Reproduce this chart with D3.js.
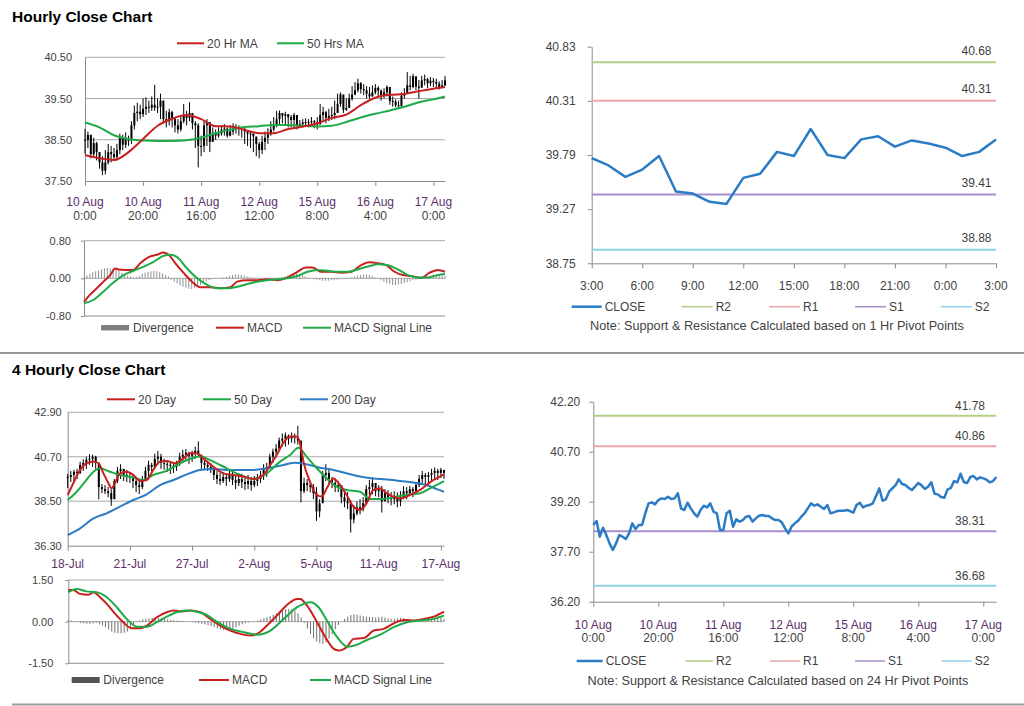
<!DOCTYPE html>
<html><head><meta charset="utf-8">
<script src="https://cdn.jsdelivr.net/npm/d3@7"></script>
<style>
body{margin:0;background:#fff;}
svg{display:block;}
</style></head><body>
<svg id="c" width="1024" height="706"></svg>
<script>
// ---------------- DATA ----------------
// Hourly bars (10 Aug 0:00 .. 17 Aug 4:00)
const hourClose = [38.50,38.62,38.15,38.42,38.20,37.95,37.75,37.95,38.20,38.15,
 38.08,38.25,38.55,38.38,38.50,38.50,38.85,39.15,39.18,39.12,
 39.25,39.30,39.28,39.35,39.28,39.30,39.45,39.00,38.95,39.17,
 39.00,38.85,38.75,38.95,39.08,39.03,39.15,38.90,38.85,38.35,
 38.35,38.85,38.93,38.45,38.67,38.60,38.65,38.75,38.77,38.60,
 38.70,38.78,38.80,38.77,38.77,38.70,38.65,38.65,38.58,38.40,
 38.25,38.45,38.55,38.63,38.75,38.85,39.00,39.15,39.08,39.12,
 39.05,38.98,39.10,38.85,38.88,38.92,38.93,38.93,38.95,38.92,
 38.87,39.10,39.17,39.03,39.08,39.10,39.15,39.37,39.60,39.23,
 39.27,39.50,39.60,39.70,39.87,39.73,39.70,39.62,39.55,39.65,
 39.76,39.69,39.58,39.65,39.78,39.44,39.42,39.34,39.32,39.57,
 39.61,39.82,39.78,40.04,39.79,39.76,39.94,39.97,39.87,39.93,
 39.90,39.86,39.78,39.82,39.94];
const hourHigh = [38.76,38.70,38.62,38.55,38.45,38.20,38.10,38.25,38.40,38.35,
 38.30,38.40,38.65,38.62,38.68,38.60,38.95,39.33,39.40,39.35,
 39.50,39.53,39.45,39.55,39.83,39.50,39.62,39.45,39.20,39.25,
 39.20,39.05,39.00,39.10,39.37,39.20,39.41,39.10,38.95,38.90,
 38.60,38.95,39.00,38.85,38.80,38.75,38.80,38.85,38.88,38.80,
 38.85,38.90,38.88,38.85,38.80,38.78,38.72,38.70,38.65,38.55,
 38.45,38.60,38.70,38.78,38.95,39.05,39.20,39.21,39.15,39.18,
 39.12,39.10,39.15,39.00,38.98,39.00,39.02,39.00,39.05,38.98,
 39.05,39.37,39.30,39.20,39.25,39.30,39.45,39.62,39.65,39.45,
 39.50,39.62,39.80,39.90,39.98,39.90,39.85,39.80,39.78,39.82,
 39.85,39.80,39.72,39.75,39.82,39.62,39.55,39.48,39.45,39.65,
 39.75,40.14,40.05,40.10,40.00,39.95,40.05,40.08,40.00,40.02,
 40.00,39.98,39.92,39.95,40.05];
const hourLow = [38.16,38.30,38.05,38.10,38.00,37.80,37.64,37.66,37.90,37.95,
 37.98,38.00,38.15,38.25,38.30,38.35,38.40,38.75,38.95,39.00,
 39.05,39.10,39.15,39.20,39.20,39.15,39.00,38.90,38.80,38.85,
 38.80,38.68,38.65,38.70,38.90,38.85,38.95,38.75,38.30,37.83,
 38.10,38.20,38.35,38.20,38.45,38.50,38.55,38.60,38.60,38.55,
 38.58,38.62,38.65,38.60,38.55,38.40,38.35,38.30,38.20,38.10,
 38.05,38.15,38.25,38.40,38.60,38.70,38.80,38.85,38.90,38.85,
 38.80,38.80,38.78,38.75,38.78,38.80,38.82,38.80,38.85,38.78,
 38.75,38.90,38.95,38.90,38.95,38.98,39.00,39.17,39.30,39.15,
 39.20,39.30,39.45,39.58,39.65,39.62,39.58,39.50,39.50,39.55,
 39.60,39.55,39.45,39.50,39.55,39.35,39.30,39.29,39.25,39.30,
 39.50,39.66,39.70,39.75,39.70,39.50,39.80,39.82,39.75,39.80,
 39.78,39.76,39.72,39.75,39.80];
// moving averages read at [bar, value]
const ma20Hour = [[0,38.13],[5,38.05],[10,38.01],[15,38.20],[20,38.52],[25,38.84],[30,39.01],[35,39.10],[40,39.00],[45,38.83],[50,38.82],[55,38.74],[60,38.66],[65,38.66],[70,38.76],[75,38.82],[80,38.90],[85,39.03],[90,39.11],[95,39.34],[100,39.52],[105,39.59],[110,39.61],[115,39.68],[120,39.74],[124,39.78]];
const ma50Hour = [[0,38.92],[5,38.80],[10,38.61],[15,38.52],[20,38.48],[25,38.47],[30,38.47],[35,38.49],[40,38.55],[45,38.66],[50,38.74],[55,38.81],[60,38.83],[65,38.86],[70,38.86],[75,38.84],[80,38.82],[85,38.84],[90,38.93],[95,39.04],[100,39.13],[105,39.21],[110,39.30],[115,39.41],[120,39.48],[124,39.55]];
const macdHour = [[0,-0.50],[2,-0.35],[4.4,-0.21],[6.7,-0.07],[9,0.07],[10.7,0.21],[11.8,0.19],[14.1,0.18],[17,0.18],[19.3,0.32],[22.2,0.45],[25,0.50],[27.4,0.55],[29.1,0.50],[31.4,0.32],[34.3,0.11],[37.1,-0.07],[40,-0.19],[43.4,-0.19],[46.9,-0.21],[50.3,-0.19],[52.6,-0.07],[56.1,-0.04],[59.5,-0.04],[63,-0.02],[66.4,-0.04],[69.9,0.02],[73.3,0.14],[76.2,0.23],[78.5,0.23],[81.4,0.14],[84.8,0.14],[88.3,0.12],[91.7,0.14],[95.2,0.28],[98,0.34],[100.9,0.32],[103.8,0.28],[106.7,0.14],[109.5,0.07],[112.4,0.05],[115.9,0.01],[118.7,0.12],[121.6,0.18],[124,0.14]];
const signalHour = [[0,-0.53],[3.2,-0.46],[6.7,-0.28],[10.1,-0.09],[13.6,0.07],[17,0.16],[20.5,0.25],[23.9,0.35],[27.4,0.48],[29.7,0.50],[32,0.45],[35.4,0.21],[38.9,0.00],[42.3,-0.14],[45.7,-0.21],[49.2,-0.21],[52.6,-0.18],[56.1,-0.12],[59.5,-0.07],[63,-0.04],[66.4,-0.02],[69.9,0.00],[73.3,0.05],[76.8,0.14],[80.2,0.18],[83.7,0.16],[87.1,0.14],[90.6,0.14],[94,0.19],[97.5,0.25],[100.9,0.30],[104.4,0.28],[107.8,0.19],[111.3,0.07],[114.7,0.02],[118.2,0.02],[121.6,0.07],[124,0.09]];
const divHour = [0.03,0.06,0.10,0.13,0.15,0.17,0.19,0.21,0.22,0.21,
 0.20,0.19,0.16,0.12,0.09,0.06,0.04,0.02,0.03,0.05,
 0.10,0.12,0.14,0.15,0.16,0.15,0.13,0.10,0.07,0.04,
 -0.03,-0.07,-0.11,-0.15,-0.18,-0.20,-0.22,-0.23,-0.21,-0.18,
 -0.14,-0.10,-0.07,-0.04,-0.02,-0.01,0.00,0.01,0.02,0.03,
 0.05,0.07,0.08,0.08,0.07,0.06,0.04,0.03,0.02,0.01,
 0.00,-0.01,-0.01,0.00,0.00,0.01,0.01,0.02,0.03,0.04,
 0.06,0.08,0.09,0.10,0.09,0.07,0.04,0.02,0.00,-0.02,
 -0.03,-0.04,-0.05,-0.05,-0.05,-0.04,-0.04,-0.03,-0.02,-0.02,
 -0.01,0.00,0.02,0.04,0.06,0.07,0.08,0.08,0.07,0.05,
 0.02,-0.01,-0.04,-0.07,-0.10,-0.12,-0.14,-0.14,-0.13,-0.12,
 -0.10,-0.08,-0.06,-0.04,-0.03,-0.02,0.00,0.02,0.04,0.06,
 0.08,0.08,0.07,0.06,0.05];
const hourTickBars = [0,20,40,60,80,100,120];
const hourTickDates = ['10 Aug','10 Aug','11 Aug','12 Aug','15 Aug','16 Aug','17 Aug'];
const hourTickTimes = ['0:00','20:00','16:00','12:00','8:00','4:00','0:00'];
const hourYTicks = [37.5,38.5,39.5,40.5];
const hourMacdTicks = [-0.8,0,0.8];

// 4-hourly bars (18 Jul .. 17 Aug)
const fourClose = [39.70,39.80,39.95,39.90,40.30,40.40,40.55,40.60,40.70,40.40,
 39.20,39.10,39.00,38.90,38.60,39.50,40.00,40.10,39.80,39.75,
 39.70,39.50,39.30,39.20,39.55,40.00,40.30,40.20,40.60,40.70,
 40.40,40.35,40.30,40.25,40.20,40.40,40.70,40.80,40.90,40.75,
 40.85,41.00,40.80,40.40,40.30,40.20,40.10,39.80,39.60,39.50,
 39.70,39.60,39.80,39.55,39.40,39.60,39.45,39.35,39.50,39.30,
 39.50,39.60,39.80,40.10,40.20,40.70,40.95,41.10,41.50,41.60,
 41.75,41.60,41.70,41.65,41.50,39.00,39.40,39.30,39.20,38.90,
 38.00,38.40,39.80,39.90,39.60,39.40,39.20,39.30,38.70,38.50,
 38.40,37.60,37.90,38.20,38.10,38.40,39.10,39.20,39.40,39.00,
 39.10,38.50,38.90,38.70,38.60,38.70,38.50,38.70,39.00,38.90,
 39.10,39.00,39.30,39.60,39.80,39.70,39.80,39.90,40.00,39.90,
 40.05,39.90];
const fourHigh = [39.85,40.00,40.05,40.10,40.45,40.58,40.70,40.83,40.80,40.75,
 40.40,39.35,39.30,39.20,39.10,39.60,40.20,40.33,40.09,40.05,
 39.95,39.85,39.70,39.60,39.75,40.20,40.50,40.40,40.85,40.99,
 40.85,40.60,40.50,40.45,40.40,40.50,40.90,41.05,41.08,40.95,
 41.00,41.20,41.46,40.70,40.60,40.50,40.40,40.17,40.00,39.90,
 39.95,39.85,40.05,39.95,39.80,39.90,39.85,39.75,39.80,39.70,
 39.75,39.85,40.00,40.33,40.40,40.85,41.10,41.33,41.65,41.85,
 41.90,41.80,41.90,41.85,42.23,41.20,39.67,39.60,39.50,39.35,
 39.20,38.60,40.00,40.33,40.10,39.70,39.55,39.50,39.20,39.05,
 38.95,38.55,38.30,38.50,38.60,38.70,39.30,39.55,39.67,39.40,
 39.30,39.26,39.10,39.05,38.95,39.00,38.93,39.00,39.25,39.20,
 39.25,39.20,39.40,39.80,40.00,39.90,39.95,40.10,40.17,40.10,
 40.15,40.05];
const fourLow = [39.15,39.45,39.50,39.60,39.85,40.00,40.10,40.30,40.20,40.10,
 38.60,38.90,38.85,38.70,38.27,38.60,39.40,39.60,39.50,39.45,
 39.40,39.15,38.95,38.85,39.10,39.50,39.70,39.85,40.10,40.30,
 40.10,40.05,39.95,39.85,39.90,40.00,40.25,40.40,40.50,40.35,
 40.45,40.60,40.70,40.10,40.05,40.00,39.90,39.55,39.35,39.30,
 39.40,39.26,39.45,39.30,39.10,39.25,39.15,39.05,39.10,39.02,
 39.20,39.25,39.40,39.55,39.70,40.17,40.40,40.65,41.00,41.20,
 41.20,41.30,41.40,41.35,41.30,38.44,38.90,39.00,38.93,38.60,
 37.53,37.70,38.90,39.50,39.40,39.15,38.95,38.95,38.40,38.20,
 38.11,36.95,37.40,37.80,37.85,38.00,38.50,38.80,38.85,38.75,
 38.70,37.94,38.50,38.40,38.30,38.35,38.20,38.25,38.60,38.60,
 38.75,38.70,38.90,39.20,39.40,39.30,39.35,39.50,39.60,39.55,
 39.65,39.60];
const ma20Four = [[0,38.81],[1.8,39.39],[4,40.05],[6.1,40.38],[8.3,40.46],[9.9,40.38],[11.5,39.88],[13.1,39.39],[14.1,39.14],[15.2,39.39],[16.8,39.88],[19,39.96],[21.1,39.80],[23.3,39.50],[25.4,39.55],[27.5,40.05],[29.7,40.46],[31.8,40.49],[34.5,40.38],[37.2,40.62],[39.3,40.87],[41.5,40.87],[43.6,40.62],[46.8,40.21],[50.1,39.88],[53.3,39.80],[56.5,39.72],[59.7,39.60],[62.9,39.80],[65.1,40.29],[67.2,40.79],[69.3,41.37],[71.5,41.70],[73.6,41.70],[74.7,41.37],[75.8,40.46],[77.9,39.47],[80.1,38.81],[81.7,38.73],[83.3,39.14],[85.4,39.63],[87.6,39.30],[89.7,38.81],[91.9,38.23],[94,38.07],[96.1,38.40],[98.3,39.06],[100.4,39.14],[102.6,38.89],[104.7,38.73],[106.9,38.64],[109,38.73],[111.1,38.89],[113.3,39.06],[115.4,39.30],[117.6,39.55],[119.7,39.72],[121,39.83]];
const ma50Four = [[0,38.56],[2.9,38.97],[5.6,39.47],[8.3,39.96],[10.4,40.13],[13.6,39.96],[16.8,39.80],[21.1,39.67],[24.3,39.55],[27.5,39.80],[31.8,40.00],[36.1,40.38],[39.3,40.59],[42.6,40.71],[46.8,40.46],[51.1,40.13],[55.4,39.80],[59.7,39.60],[64,39.88],[68.3,40.46],[71.5,40.79],[74.2,41.15],[76.8,40.71],[80.1,40.13],[83.3,39.63],[86.5,39.22],[89.7,39.06],[94,38.97],[97.2,38.61],[101.5,38.61],[105.8,38.73],[110.1,38.84],[113.3,38.89],[116.5,39.14],[121,39.50]];
const ma200Four = [[0,36.83],[4,37.16],[8.3,37.65],[12.5,37.90],[16.8,38.23],[21.1,38.56],[25.4,38.84],[29.7,39.30],[34,39.55],[38.3,39.83],[42.6,40.05],[46.8,40.09],[51.1,40.05],[55.4,40.05],[59.7,40.05],[64,40.13],[69.3,40.29],[73.1,40.41],[76.8,40.33],[81.1,40.16],[85.4,40.05],[89.7,39.88],[94,39.72],[98.3,39.63],[102.6,39.58],[106.9,39.50],[111.1,39.43],[115.4,39.30],[118.7,39.10],[121,38.97]];
const macdFour = [[0,1.14],[1.6,1.14],[3.8,1.00],[6.5,0.97],[8.1,1.06],[10.2,0.88],[12.4,0.64],[15.1,0.28],[17.7,-0.02],[20.4,-0.24],[23.1,-0.24],[25.3,-0.14],[28.5,0.16],[31.7,0.34],[33.9,0.40],[36.6,0.37],[39.2,0.40],[42.5,0.34],[45.7,0.10],[48.9,-0.14],[52.2,-0.32],[55.4,-0.44],[58.6,-0.50],[60.8,-0.44],[64,-0.14],[67.2,0.22],[70.4,0.60],[73.7,0.82],[74.7,0.82],[76.9,0.58],[80.1,-0.02],[82.8,-0.56],[85.5,-0.98],[87.1,-1.04],[89.8,-0.90],[91.9,-0.62],[95.2,-0.59],[98.4,-0.32],[101.6,-0.26],[104.8,-0.06],[108.1,0.06],[111.3,0.04],[114.5,0.10],[117.7,0.18],[121,0.36]];
const signalFour = [[0,1.06],[2.7,1.18],[5.9,1.09],[9.1,1.06],[12.4,0.88],[15.6,0.52],[18.8,0.10],[22,-0.18],[25.3,-0.18],[28.5,-0.02],[31.7,0.18],[34.9,0.34],[38.2,0.40],[41.4,0.36],[44.6,0.24],[47.8,0.00],[52.2,-0.26],[56.5,-0.38],[60.8,-0.47],[65.1,-0.32],[69.4,0.10],[73.7,0.52],[78,0.70],[80.6,0.52],[83.3,0.04],[86.6,-0.56],[89.8,-0.90],[93,-0.83],[96.2,-0.66],[100.5,-0.47],[104.8,-0.20],[109.1,-0.02],[113.4,0.04],[117.7,0.10],[121,0.22]];
const divFour = [0.06,0.04,0.02,-0.02,-0.05,-0.06,-0.07,-0.08,-0.06,-0.05,
 -0.10,-0.14,-0.20,-0.28,-0.35,-0.40,-0.42,-0.42,-0.40,-0.36,
 -0.25,-0.12,-0.02,0.04,0.08,0.10,0.12,0.14,0.15,0.14,
 0.12,0.10,0.08,0.06,0.05,0.04,0.03,0.02,0.00,-0.01,
 -0.02,-0.04,-0.06,-0.08,-0.10,-0.13,-0.16,-0.20,-0.24,-0.27,
 -0.29,-0.30,-0.28,-0.25,-0.20,-0.15,-0.10,-0.06,-0.03,-0.01,
 0.00,0.04,0.08,0.12,0.16,0.20,0.25,0.30,0.35,0.40,
 0.44,0.46,0.45,0.40,0.30,0.15,-0.05,-0.25,-0.45,-0.60,
 -0.72,-0.78,-0.80,-0.75,-0.62,-0.45,-0.28,-0.12,0.00,0.10,
 0.18,0.24,0.26,0.25,0.22,0.20,0.18,0.17,0.16,0.15,
 0.16,0.18,0.15,0.12,0.10,0.10,0.12,0.14,0.12,0.10,
 0.08,0.06,0.06,0.08,0.10,0.12,0.12,0.10,0.10,0.12,
 0.14,0.10];
const fourTickBars = [0,20,40,60,80,100,120];
const fourTickLabels = ['18-Jul','21-Jul','27-Jul','2-Aug','5-Aug','11-Aug','17-Aug'];
const fourYTicks = [36.3,38.5,40.7,42.9];
const fourMacdTicks = [-1.5,0,1.5];

// Pivot charts
const levelNames = ['R2','R1','S1','S2'];
const pivot1Levels = [40.68,40.31,39.41,38.88];
const pivot2Levels = [41.78,40.86,38.31,36.68];
const pivot1Ticks = ['3:00','6:00','9:00','12:00','15:00','18:00','21:00','0:00','3:00'];
const pivot1YTicks = [38.75,39.27,39.79,40.31,40.83];
const pivot2YTicks = [36.2,37.7,39.2,40.7,42.2];

// ---------------- DRAWING ----------------
const FONT = '"Liberation Sans", Arial, sans-serif';
const GRID = '#a8a8a8', AXIS = '#8c8c8c', TXT = '#3f3f3f', DATE = '#5a2f6a';
const RED = '#c8201e', GREEN = '#1faa48', BLUE = '#2b7cc4';
const LEVEL_COLORS = {R2:'#b2cf88', R1:'#eaa6a8', S1:'#a88fcc', S2:'#90d0e8'};
const fmt2 = d => d.toFixed(2);
const svg = d3.select('#c');

function txt(g, x, y, s, size, color, anchor, weight) {
  return g.append('text').attr('x', x).attr('y', y).text(s)
    .attr('font-family', FONT).attr('font-size', size).attr('fill', color || TXT)
    .attr('text-anchor', anchor || 'start').attr('font-weight', weight || 'normal');
}
function styleAxis(g) {
  g.select('.domain').attr('stroke', AXIS).attr('stroke-width', 1);
  g.selectAll('.tick line').attr('stroke', AXIS);
  g.selectAll('.tick text').attr('fill', TXT).attr('font-family', FONT);
}
function yAxisLeft(x0, y, ticks, pad, size, fs) {
  const g = svg.append('g').attr('transform', `translate(${x0},0)`)
    .call(d3.axisLeft(y).tickValues(ticks).tickFormat(fmt2).tickSizeInner(size).tickSizeOuter(0).tickPadding(pad));
  styleAxis(g);
  g.selectAll('.tick text').attr('font-size', fs);
  return g;
}
function xAxisBottom(y1, x, bars, size) {
  const g = svg.append('g').attr('transform', `translate(0,${y1})`)
    .call(d3.axisBottom(x).tickValues(bars).tickFormat('').tickSizeInner(size).tickSizeOuter(0));
  styleAxis(g);
  return g;
}
function grid(x0, x1, y, vals) {
  svg.append('g').selectAll('line').data(vals).join('line')
    .attr('x1', x0).attr('x2', x1).attr('y1', d => y(d)).attr('y2', d => y(d))
    .attr('stroke', GRID).attr('stroke-width', 1);
}
function lineLegend(g, x, y, w, color, label, sw) {
  g.append('line').attr('x1', x).attr('x2', x + w).attr('y1', y).attr('y2', y)
    .attr('stroke', color).attr('stroke-width', sw || 2);
  txt(g, x + w + 3, y + 4.3, label, 12, TXT);
}
function maLine(x, y, pts, color, w) {
  svg.append('path').datum(pts)
    .attr('d', d3.line().x(d => x(d[0])).y(d => y(d[1])).curve(d3.curveMonotoneX))
    .attr('fill', 'none').attr('stroke', color).attr('stroke-width', w || 2).attr('stroke-linejoin', 'round');
}

function candlePanel(o) {
  const n = o.close.length;
  const x = d3.scaleLinear().domain([0, n - 1]).range([o.x0, o.x1]);
  const y = d3.scaleLinear().domain(o.yDomain).range([o.y1, o.y0]);
  grid(o.x0, o.x1, y, o.yTicks.slice(1));
  yAxisLeft(o.x0, y, o.yTicks, o.ypad, 0, 11);
  xAxisBottom(o.y1, x, o.xTickBars, 5);
  const g = svg.append('g');
  g.selectAll('line').data(o.close).join('line')
    .attr('x1', (d, i) => x(i)).attr('x2', (d, i) => x(i))
    .attr('y1', (d, i) => y(o.high[i])).attr('y2', (d, i) => y(o.low[i]))
    .attr('stroke', '#000').attr('stroke-width', 1);
  g.selectAll('rect').data(o.close).join('rect')
    .attr('x', (d, i) => x(i) - 1).attr('width', 2)
    .attr('y', (d, i) => y(Math.max(d, i ? o.close[i - 1] : d)))
    .attr('height', (d, i) => Math.max(1, Math.abs(y(d) - y(i ? o.close[i - 1] : d))))
    .attr('fill', '#000');
  o.mas.forEach(m => maLine(x, y, m.pts, m.color, 2));
  return x;
}
function macdPanel(o) {
  const n = o.div.length;
  const x = d3.scaleLinear().domain([0, n - 1]).range([o.x0, o.x1]);
  const y = d3.scaleLinear().domain([o.ticks[0], o.ticks[o.ticks.length - 1]]).range([o.y1, o.y0]);
  grid(o.x0, o.x1, y, o.ticks.slice(1));
  yAxisLeft(o.x0, y, o.ticks, o.ypad, 3, 11);
  svg.append('line').attr('x1', o.x0).attr('x2', o.x1).attr('y1', o.y1).attr('y2', o.y1).attr('stroke', AXIS);
  svg.append('g').selectAll('line').data(o.div).join('line')
    .attr('x1', (d, i) => x(i)).attr('x2', (d, i) => x(i))
    .attr('y1', y(0)).attr('y2', d => y(d))
    .attr('stroke', o.divColor).attr('stroke-width', 1);
  maLine(x, y, o.macd, RED, 2);
  maLine(x, y, o.signal, GREEN, 2);
}
function pivotPanel(o) {
  const n = o.close.length;
  const x = d3.scaleLinear().domain([0, n - 1]).range([o.x0, o.x1]);
  const y = d3.scaleLinear().domain([o.yTicks[0], o.yTicks[o.yTicks.length - 1]]).range([o.y1, o.y0]);
  yAxisLeft(o.x0, y, o.yTicks, o.ypad, 4, 12);
  xAxisBottom(o.y1, x, o.xTickBars, 5);
  const g = svg.append('g');
  o.levels.forEach((v, i) => {
    g.append('line').attr('x1', o.x0).attr('x2', o.x1).attr('y1', y(v)).attr('y2', y(v))
      .attr('stroke', LEVEL_COLORS[levelNames[i]]).attr('stroke-width', 2);
    txt(g, o.labelX, y(v) - o.labelDy, fmt2(v), 12, TXT, 'end');
  });
  g.append('path').datum(o.close)
    .attr('d', d3.line().x((d, i) => x(i)).y(d => y(d)))
    .attr('fill', 'none').attr('stroke', BLUE).attr('stroke-width', 2.5).attr('stroke-linejoin', 'round');
  return x;
}

// ---- Titles and separators
txt(svg, 12, 21.5, 'Hourly Close Chart', 15.5, '#000', 'start', 'bold');
txt(svg, 12, 375, '4 Hourly Close Chart', 15.5, '#000', 'start', 'bold');
svg.append('line').attr('x1', 0).attr('x2', 1024).attr('y1', 353).attr('y2', 353).attr('stroke', '#9a9a9a').attr('stroke-width', 2);
svg.append('line').attr('x1', 12).attr('x2', 1024).attr('y1', 704.5).attr('y2', 704.5).attr('stroke', '#9a9a9a').attr('stroke-width', 2);

// ---- Hourly candle chart
const lg1 = svg.append('g');
lineLegend(lg1, 177, 43.3, 27, RED, '20 Hr MA');
lineLegend(lg1, 277, 43.3, 27, GREEN, '50 Hrs MA');
const xh = candlePanel({x0: 85, x1: 445, y0: 57.3, y1: 181, yDomain: [37.5, 40.5], yTicks: hourYTicks, ypad: 13,
  close: hourClose, high: hourHigh, low: hourLow, xTickBars: hourTickBars,
  mas: [{pts: ma50Hour, color: GREEN}, {pts: ma20Hour, color: RED}]});
hourTickBars.forEach((b, i) => {
  txt(svg, xh(b), 205.5, hourTickDates[i], 12, DATE, 'middle');
  txt(svg, xh(b), 219.5, hourTickTimes[i], 12, TXT, 'middle');
});
// ---- Hourly MACD
macdPanel({x0: 84, x1: 445, y0: 240.7, y1: 316, ticks: hourMacdTicks, ypad: 10,
  div: divHour, macd: macdHour, signal: signalHour, divColor: '#8e8e8e'});
const lg2 = svg.append('g');
lg2.append('rect').attr('x', 101).attr('y', 325).attr('width', 28).attr('height', 5.5).attr('fill', '#7f7f7f');
txt(lg2, 133, 332, 'Divergence', 12, TXT);
lineLegend(lg2, 216, 327.7, 28, RED, 'MACD');
lineLegend(lg2, 303, 327.7, 28, GREEN, 'MACD Signal Line');

// ---- 1 Hr pivot chart
const last25 = hourClose.slice(-25);
const pivot1Bars = [0,3,6,9,12,15,18,21,24];
const xp1 = pivotPanel({x0: 591.7, x1: 996, y0: 46.7, y1: 263.3, yTicks: pivot1YTicks, ypad: 12,
  close: last25, levels: pivot1Levels, xTickBars: pivot1Bars, labelX: 991.5, labelDy: 7.5});
pivot1Bars.forEach((b, i) => txt(svg, xp1(b), 290.3, pivot1Ticks[i], 12, TXT, 'middle'));
const lg3 = svg.append('g');
lineLegend(lg3, 571.7, 306.7, 30, BLUE, 'CLOSE', 2.5);
lineLegend(lg3, 681.7, 306.7, 31, LEVEL_COLORS.R2, 'R2', 1.5);
lineLegend(lg3, 769, 306.7, 31, LEVEL_COLORS.R1, 'R1', 1.5);
lineLegend(lg3, 855, 306.7, 31, LEVEL_COLORS.S1, 'S1', 1.5);
lineLegend(lg3, 940.7, 306.7, 31, LEVEL_COLORS.S2, 'S2', 1.5);
txt(svg, 777, 330, 'Note: Support & Resistance Calculated based on 1 Hr Pivot Points', 12.7, TXT, 'middle');

// ---- 4 hourly candle chart
const lg4 = svg.append('g');
lineLegend(lg4, 107, 399.3, 28, RED, '20 Day');
lineLegend(lg4, 203, 399.3, 28, GREEN, '50 Day');
lineLegend(lg4, 300, 399.3, 28, BLUE, '200 Day');
const xf = candlePanel({x0: 67.7, x1: 444, y0: 412.3, y1: 545.7, yDomain: [36.3, 42.9], yTicks: fourYTicks, ypad: 6,
  close: fourClose, high: fourHigh, low: fourLow, xTickBars: fourTickBars,
  mas: [{pts: ma200Four, color: BLUE}, {pts: ma50Four, color: GREEN}, {pts: ma20Four, color: RED}]});
fourTickBars.forEach((b, i) => txt(svg, xf(b), 568.3, fourTickLabels[i], 12, DATE, 'middle'));
// ---- 4 hourly MACD
macdPanel({x0: 68.3, x1: 444, y0: 580, y1: 663.3, ticks: fourMacdTicks, ypad: 12,
  div: divFour, macd: macdFour, signal: signalFour, divColor: '#6e6e6e'});
const lg5 = svg.append('g');
lg5.append('rect').attr('x', 71.7).attr('y', 677).attr('width', 28).attr('height', 6).attr('fill', '#555');
txt(lg5, 103.3, 684.3, 'Divergence', 12, TXT);
lineLegend(lg5, 199, 680, 30, RED, 'MACD');
lineLegend(lg5, 310, 680, 21, GREEN, 'MACD Signal Line');

// ---- 24 Hr pivot chart
const xp2 = pivotPanel({x0: 593.3, x1: 996.3, y0: 401.7, y1: 601.7, yTicks: pivot2YTicks, ypad: 9,
  close: hourClose, levels: pivot2Levels, xTickBars: hourTickBars, labelX: 985, labelDy: 6});
hourTickBars.forEach((b, i) => {
  txt(svg, xp2(b), 628.5, hourTickDates[i], 12, DATE, 'middle');
  txt(svg, xp2(b), 642, hourTickTimes[i], 12, TXT, 'middle');
});
const lg6 = svg.append('g');
lineLegend(lg6, 576.7, 661, 26, BLUE, 'CLOSE', 2.5);
lineLegend(lg6, 685, 661, 28, LEVEL_COLORS.R2, 'R2', 1.5);
lineLegend(lg6, 770, 661, 30, LEVEL_COLORS.R1, 'R1', 1.5);
lineLegend(lg6, 855, 661, 30, LEVEL_COLORS.S1, 'S1', 1.5);
lineLegend(lg6, 941.7, 661, 30, LEVEL_COLORS.S2, 'S2', 1.5);
txt(svg, 778, 684.5, 'Note: Support & Resistance Calculated based on 24 Hr Pivot Points', 12.7, TXT, 'middle');
</script>
</body></html>
